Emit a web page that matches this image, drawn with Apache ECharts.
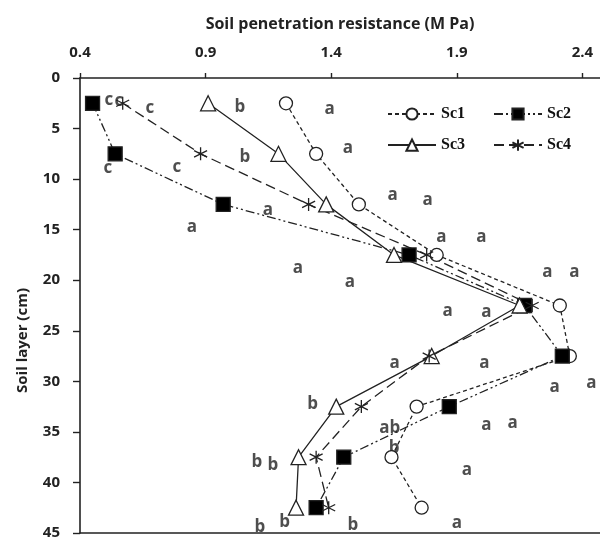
<!DOCTYPE html>
<html>
<head>
<meta charset="utf-8">
<script src="https://cdn.jsdelivr.net/npm/echarts@6/dist/echarts.min.js"></script>
<style>
  html, body { margin: 0; padding: 0; background: #fff; }
  #main { width: 600px; height: 541px; }
</style>
</head>
<body>
<div id="main"></div>
<script>
const depths = [2.5, 7.5, 12.5, 17.5, 22.5, 27.5, 32.5, 37.5, 42.5];
const sc1 = [1.22, 1.34, 1.51, 1.82, 2.31, 2.35, 1.74, 1.64, 1.76];
const sc2 = [0.45, 0.54, 0.97, 1.71, 2.17, 2.32, 1.87, 1.45, 1.34];
const sc3 = [0.91, 1.19, 1.38, 1.65, 2.15, 1.80, 1.42, 1.27, 1.26];
const sc4 = [0.57, 0.88, 1.31, 1.78, 2.20, 1.79, 1.52, 1.34, 1.39];

const xTicks = [0.4, 0.9, 1.4, 1.9, 2.4];
const yTicks = [0, 5, 10, 15, 20, 25, 30, 35, 40, 45];

// significance letters: [resistance, depth, letter]
const letters = [
    [0.515, 2.2, "c"], [0.555, 2.3, "c"], [0.678, 3.0, "c"], [1.036, 2.9, "b"], [1.394, 3.1, "a"],
    [0.511, 8.9, "c"], [0.786, 8.8, "c"], [1.056, 7.8, "b"], [1.466, 6.9, "a"],
    [1.148, 13.1, "a"], [0.845, 14.8, "a"], [1.645, 11.6, "a"], [1.784, 12.1, "a"],
    [1.839, 15.7, "a"], [1.998, 15.7, "a"],
    [1.267, 18.8, "a"], [1.474, 20.2, "a"], [2.261, 19.2, "a"], [2.368, 19.2, "a"],
    [1.863, 23.1, "a"], [2.018, 23.2, "a"],
    [1.652, 28.2, "a"], [2.01, 28.2, "a"], [2.289, 30.6, "a"], [2.436, 30.2, "a"],
    [1.326, 32.3, "b"], [1.633, 34.6, "ab"], [2.018, 34.3, "a"], [2.122, 34.1, "a"],
    [1.104, 38.0, "b"], [1.168, 38.3, "b"], [1.65, 36.6, "b"], [1.94, 38.8, "a"],
    [1.116, 44.4, "b"], [1.215, 43.9, "b"], [1.486, 44.2, "b"], [1.9, 44.0, "a"]
];

const chart = echarts.init(document.getElementById("main"));
const ink = "#222";
const asterisk = "path://M5,0L5,10M0.67,2.5L9.33,7.5M0.67,7.5L9.33,2.5";

function pts(vals) {
    return vals.map((v, i) => [v, depths[i]]);
}

function lineSeries(name, vals, symbol, size, fill, dash) {
    return {
        name: name,
        type: "line",
        data: pts(vals),
        symbol: symbol,
        symbolSize: size,
        lineStyle: { color: ink, width: 1.3, type: dash },
        itemStyle: { color: fill, borderColor: ink, borderWidth: 1.3 },
        z: 3,
    };
}

const legendText = { fontFamily: "Liberation Serif", fontWeight: "bold", fontSize: 16, color: "#111" };

const option = {
    animation: false,
    grid: { left: 80, top: 78, right: 0, bottom: 8 },
    legend: [
        { data: ["Sc1", "Sc2"], left: 382, top: 101, itemWidth: 48, itemHeight: 14, itemGap: 28, textStyle: legendText },
        { data: ["Sc3", "Sc4"], left: 382, top: 132, itemWidth: 48, itemHeight: 14, itemGap: 28, textStyle: legendText },
    ],
    xAxis: [
        {
            type: "value",
            position: "top",
            min: 0.4,
            max: 2.47,
            name: "Soil penetration resistance (M Pa)",
            nameLocation: "middle",
            nameGap: 46,
            nameTextStyle: { fontFamily: "Open Sans", fontWeight: "bold", fontSize: 16, color: ink },
            axisLine: { onZero: false, lineStyle: { color: ink, width: 1.6 } },
            axisTick: { customValues: xTicks, length: 5, lineStyle: { color: ink, width: 1.4 } },
            axisLabel: {
                customValues: xTicks,
                margin: 18,
                fontFamily: "Open Sans", fontWeight: "bold", fontSize: 15, color: ink,
                formatter: (v) => v.toFixed(1),
            },
            splitLine: { show: false },
        },
        {
            type: "value",
            position: "bottom",
            min: 0.4,
            max: 2.47,
            axisLine: { onZero: false, lineStyle: { color: ink, width: 1.6 } },
            axisTick: { show: false },
            axisLabel: { show: false },
            splitLine: { show: false },
        },
    ],
    yAxis: {
        type: "value",
        inverse: true,
        min: 0,
        max: 45,
        interval: 5,
        name: "Soil layer (cm)",
        nameLocation: "middle",
        nameGap: 50,
        nameTextStyle: { fontFamily: "Open Sans", fontWeight: "bold", fontSize: 15, color: ink, padding: [0, 70, 0, 0] },
        axisLine: { onZero: false, lineStyle: { color: ink, width: 1.6 } },
        axisTick: { customValues: yTicks, length: 7, lineStyle: { color: ink, width: 1.4 } },
        axisLabel: { customValues: yTicks, margin: 20, fontFamily: "Open Sans", fontWeight: "bold", fontSize: 15, color: ink },
        splitLine: { show: false },
    },
    series: [
        lineSeries("Sc1", sc1, "circle", 13, "#fff", [4, 3]),
        lineSeries("Sc2", sc2, "rect", 14, "#000", [9, 3, 2, 3, 2, 3]),
        lineSeries("Sc3", sc3, "triangle", 15, "#fff", "solid"),
        lineSeries("Sc4", sc4, asterisk, 13, "none", [10, 5]),
        {
            name: "letters",
            type: "scatter",
            data: letters,
            symbolSize: 1,
            clip: false,
            itemStyle: { color: "rgba(0,0,0,0)" },
            label: {
                show: true,
                position: "inside",
                formatter: (p) => p.data[2],
                fontFamily: "Open Sans", fontWeight: "bold", fontSize: 17, color: ink,
            },
            z: 2,
        },
    ],
};

chart.setOption(option);
</script>
</body>
</html>
